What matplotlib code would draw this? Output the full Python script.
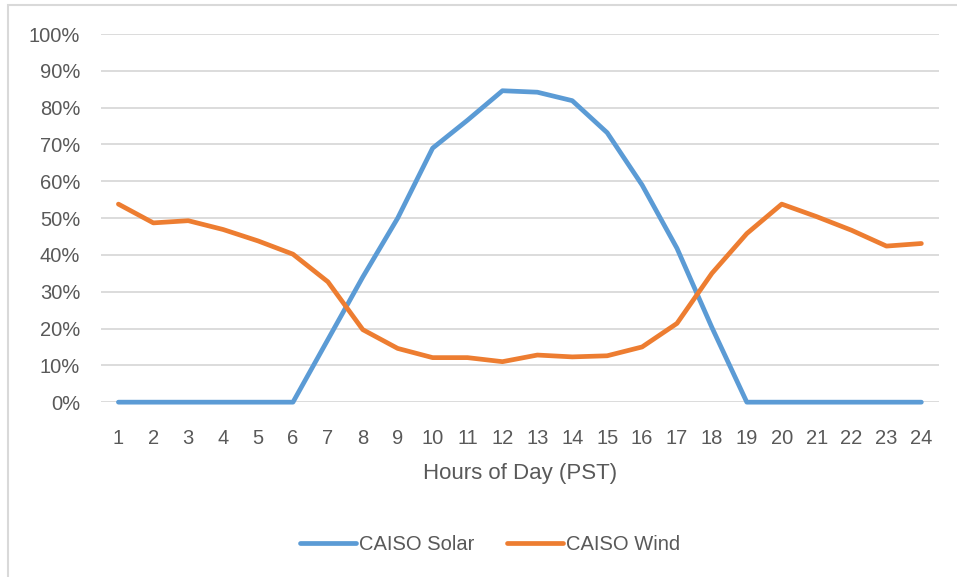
import matplotlib.pyplot as plt
from matplotlib.patches import Rectangle
from matplotlib.ticker import PercentFormatter

plt.rcParams['font.family'] = ['Liberation Sans', 'DejaVu Sans']

# 時刻 (PST)
hours = list(range(1, 25))

# 時間帯別の出力比率
solar = [0.0, 0.0, 0.0, 0.0, 0.0, 0.0, 0.17, 0.34, 0.50, 0.69, 0.766, 0.846,
         0.842, 0.819, 0.732, 0.59, 0.418, 0.203, 0.0, 0.0, 0.0, 0.0, 0.0, 0.0]
wind = [0.538, 0.487, 0.493, 0.469, 0.438, 0.402, 0.327, 0.197, 0.146, 0.121,
        0.121, 0.11, 0.128, 0.123, 0.126, 0.15, 0.214, 0.35, 0.458, 0.538,
        0.504, 0.467, 0.424, 0.431]

text_color = '#595959'

fig = plt.figure(figsize=(9.57, 5.77), dpi=100)
fig.patches.append(Rectangle((8 / 957, -0.1), 1.2, 1 - 5 / 577 + 0.1,
                             transform=fig.transFigure, fill=False,
                             edgecolor='#d9d9d9', linewidth=1.5))

ax = fig.add_axes([0.1055, 0.303, 0.8755, 0.638])
ax.plot(hours, solar, color='#5b9bd5', linewidth=3.4, label='CAISO Solar',
        solid_capstyle='round', clip_on=False, zorder=3)
ax.plot(hours, wind, color='#ed7d31', linewidth=3.4, label='CAISO Wind',
        solid_capstyle='round', clip_on=False, zorder=3)

ax.set_xlim(0.5, 24.5)
ax.set_ylim(0, 1)
ax.set_xticks(hours)
ax.set_yticks([i / 10 for i in range(11)])
ax.yaxis.set_major_formatter(PercentFormatter(1.0, decimals=0))
ax.grid(axis='y', color='#d9d9d9', linewidth=1.3)
ax.set_axisbelow(True)
for side in ax.spines.values():
    side.set_visible(False)
ax.tick_params(length=0, colors=text_color, labelsize=14.5)
ax.tick_params(axis='x', pad=19)
ax.tick_params(axis='y', pad=15)

ax.set_xlabel('Hours of Day (PST)', color=text_color, fontsize=16, labelpad=11)

fig.legend(loc='center', bbox_to_anchor=(0.512, 0.057), ncol=2, frameon=False,
           fontsize=14.5, handlelength=2.8, handletextpad=0.15, columnspacing=1.6,
           labelcolor=text_color)

fig.savefig('out.png', dpi=100)
